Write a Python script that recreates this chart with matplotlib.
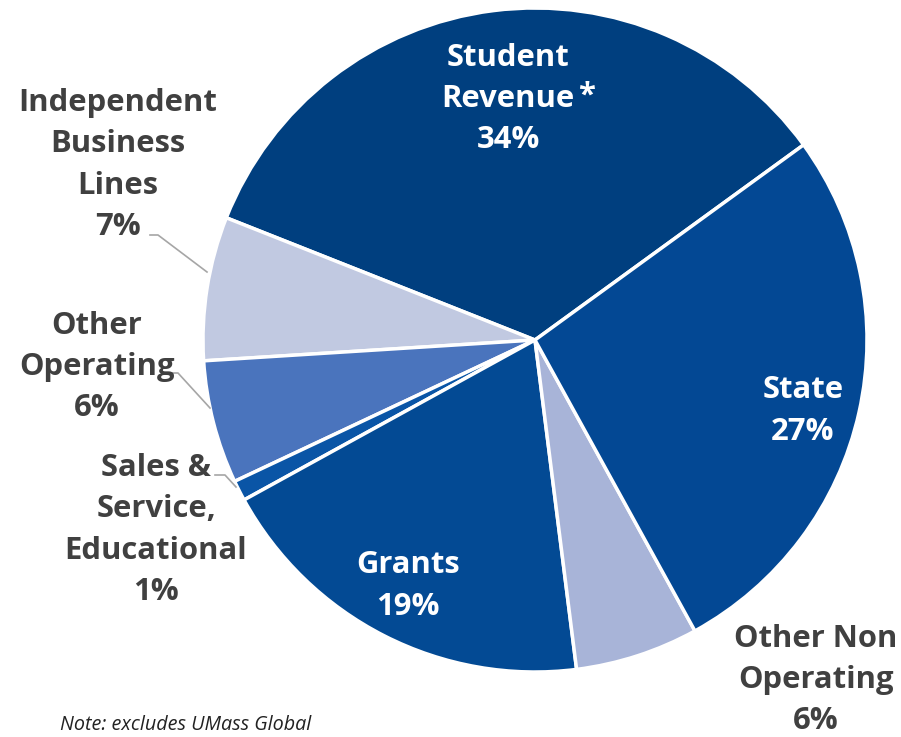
import matplotlib
matplotlib.use("Agg")
import matplotlib.pyplot as plt

# Revenue shares (percent), counter-clockwise from the top-right edge
categories = ["Student Revenue", "Independent Business Lines", "Other Operating",
              "Sales & Service, Educational", "Grants", "Other Non Operating", "State"]
shares = [34, 7, 6, 1, 19, 6, 27]
colors = ["#003f7f", "#c1c9e1", "#4a74bd", "#0a55a6", "#034a94", "#a8b4d8", "#034894"]

plt.rcParams["font.family"] = ["Open Sans", "DejaVu Sans"]

W, H = 901, 737
fig = plt.figure(figsize=(W / 100, H / 100), dpi=100)
ax = fig.add_axes([0, 0, 1, 1])

cx, cy, r = 535, H - 340, 332
ax.pie(shares, colors=colors, startangle=36, counterclock=True,
       center=(cx, cy), radius=r,
       wedgeprops=dict(edgecolor="white", linewidth=2.5))
ax.set_xlim(0, W)
ax.set_ylim(0, H)
ax.set_aspect("equal")
ax.axis("off")

fs = 22.3
lab = dict(fontsize=fs, fontweight="bold", ha="center", va="center", linespacing=1.49)
dark = "#404040"

def y(p):
    return H - p

# labels inside the pie
ax.text(508, y(99), f"Student\nRevenue\n{shares[0]}%", color="white", **lab)
ax.text(586, y(96), "*", color="white", fontsize=fs, fontweight="bold", ha="center", va="center")
ax.text(803, y(411), f"State\n{shares[6]}%", color="white", **lab)
ax.text(408, y(586), f"Grants\n{shares[4]}%", color="white", **lab)

# labels outside the pie
ax.text(816, y(680), f"Other Non\nOperating\n{shares[5]}%", color=dark, **lab)
ax.text(118, y(165), f"Independent\nBusiness\nLines\n{shares[1]}%", color=dark, **lab)
ax.text(97, y(367), f"Other\nOperating\n{shares[2]}%", color=dark, **lab)
ax.text(156, y(530), f"Sales &\nService,\nEducational\n{shares[3]}%", color=dark, **lab)

# leader lines
lc = dict(color="#a6a6a6", lw=1.2)
ax.plot([150, 158, 207], [y(235), y(235), y(272)], **lc)
ax.plot([168, 178, 210], [y(373), y(373), y(408)], **lc)
ax.plot([215, 225, 236], [y(475), y(475), y(487)], **lc)

ax.text(60, y(725), "Note: excludes UMass Global", fontsize=14.2, style="italic",
        color="#222222", ha="left", va="center")

fig.savefig("out.png", dpi=100)
